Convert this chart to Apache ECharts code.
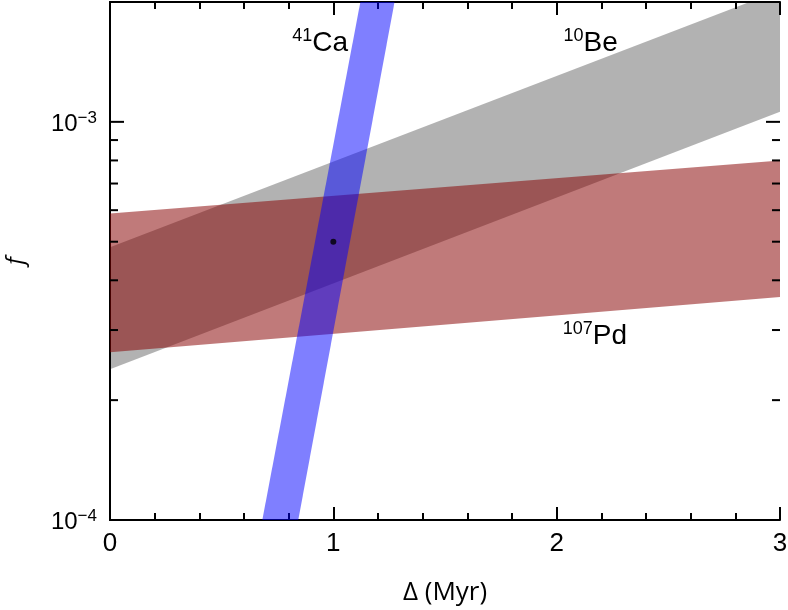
<!DOCTYPE html>
<html>
<head>
<meta charset="utf-8">
<script src="https://cdn.jsdelivr.net/npm/echarts@6/dist/echarts.min.js"></script>
<style>
html,body{margin:0;padding:0;background:#fff;}
#chart{width:788px;height:610px;}
</style>
</head>
<body>
<div id="chart"></div>
<script>
// ---- data (x = Δ in Myr, f = value) ----
var xMin = 0, xMax = 3;
var yMin = 1e-4, yMax = 2e-3;
var xTickLabels = ['0', '1', '2', '3'];

// band edges: [Δ, f] endpoints (straight lines in log space)
var be10Lower = [[0, 2.39e-4], [3, 1.06e-3]];
var be10Upper = [[0, 4.84e-4], [3, 2.14e-3]];
var pd107Lower = [[0, 2.64e-4], [3, 3.63e-4]];
var pd107Upper = [[0, 5.89e-4], [3, 8.0e-4]];
var ca41Left  = [[0.682, 1e-4], [1.121, 2e-3]];
var ca41Right = [[0.843, 1e-4], [1.274, 2e-3]];

var solutionPoint = [[1, 5e-4]];

var yMajorTicks = [1e-4, 1e-3];
var yTickExponents = ['\u22124', '\u22123'];
var yMinorTicks = [2e-4, 3e-4, 4e-4, 5e-4, 6e-4, 7e-4, 8e-4, 9e-4, 2e-3];

var annoIso  = ['41', '10', '107'];
var annoElem = ['Ca', 'Be', 'Pd'];
var annoX    = [0.816, 2.031, 2.027];
var annoF    = [1.585e-3, 1.585e-3, 2.91e-4];

// ---- chart ----
function polygonOf(lower, upper) {
  return lower.concat(upper.slice().reverse());
}
var bands = [
  { poly: polygonOf(be10Lower, be10Upper), color: 'rgba(0,0,0,0.30)' },
  { poly: polygonOf(pd107Lower, pd107Upper), color: 'rgba(135,0,0,0.52)' },
  { poly: polygonOf(ca41Left, ca41Right), color: 'rgba(0,0,255,0.5)' }
];

var FONT = 'Liberation Sans, Arial, sans-serif';
function makeRich(big, small, raise) {
  return {
    b: { fontSize: big, fontFamily: FONT, color: '#000', verticalAlign: 'bottom' },
    s: { fontSize: small, fontFamily: FONT, color: '#000', verticalAlign: 'top', padding: [0, 0, raise, 0] }
  };
}

var series = [];
bands.forEach(function (b) {
  series.push({
    type: 'custom',
    coordinateSystem: 'cartesian2d',
    clip: true,
    silent: true,
    data: b.poly,
    renderItem: function (params, api) {
      if (params.dataIndex !== 0) return;
      var pts = b.poly.map(function (p) { return api.coord(p); });
      return { type: 'polygon', shape: { points: pts }, style: { fill: b.color } };
    },
    z: 2
  });
});

series.push({
  type: 'scatter',
  data: solutionPoint,
  symbol: 'circle',
  symbolSize: 6,
  itemStyle: { color: '#000' },
  silent: true,
  z: 5
});

// y ticks (log minor ticks) on both sides, plus labels for decades
var allYTicks = yMajorTicks.map(function (v, i) { return [xMin, v, 1, i]; })
  .concat(yMinorTicks.map(function (v) { return [xMin, v, 0, -1]; }));
series.push({
  type: 'custom',
  coordinateSystem: 'cartesian2d',
  silent: true,
  clip: false,
  data: allYTicks,
  encode: { x: 0, y: 1 },
  renderItem: function (params, api) {
    var v = api.value(1), major = api.value(2), li = api.value(3);
    var len = major ? 14 : 8;
    var pl = api.coord([xMin, v]);
    var pr = api.coord([xMax, v]);
    var st = { stroke: '#000', lineWidth: 2 };
    var children = [
      { type: 'line', shape: { x1: pl[0], y1: pl[1], x2: pl[0] + len, y2: pl[1] }, style: st },
      { type: 'line', shape: { x1: pr[0], y1: pr[1], x2: pr[0] - len, y2: pr[1] }, style: st }
    ];
    if (major && li >= 0) {
      children.push({
        type: 'text', x: pl[0] - 13, y: pl[1] + 1,
        style: {
          text: '{b|10}{s|' + yTickExponents[li] + '}',
          rich: makeRich(24, 17, 10),
          fontSize: 24, fontFamily: FONT,
          align: 'right', verticalAlign: 'middle'
        }
      });
    }
    return { type: 'group', children: children };
  },
  z: 6
});

// annotations
series.push({
  type: 'custom',
  coordinateSystem: 'cartesian2d',
  silent: true,
  clip: false,
  data: annoX.map(function (x, i) { return [x, annoF[i], i]; }),
  encode: { x: 0, y: 1 },
  renderItem: function (params, api) {
    var i = api.value(2);
    var p = api.coord([api.value(0), api.value(1)]);
    return {
      type: 'text',
      x: p[0], y: p[1],
      style: {
        text: '{s|' + annoIso[i] + '}{b|' + annoElem[i] + '}',
        rich: makeRich(28, 18, 12),
        fontSize: 28,
        fontFamily: FONT,
        align: 'left',
        verticalAlign: 'middle'
      }
    };
  },
  z: 7
});

var axisLineStyle = { color: '#000', width: 2 };

var option = {
  animation: false,
  backgroundColor: '#fff',
  grid: { left: 110, right: 8, top: 2, bottom: 90, containLabel: false, outerBoundsMode: 'none' },
  xAxis: [
    {
      type: 'value', min: xMin, max: xMax, interval: 1, position: 'bottom',
      axisLine: { show: true, lineStyle: axisLineStyle },
      axisTick: { show: true, inside: true, length: 13, lineStyle: { color: '#000', width: 2 } },
      minorTick: { show: true, splitNumber: 5, length: 7, lineStyle: { color: '#000', width: 2 } },
      splitLine: { show: false },
      axisLabel: {
        color: '#000', fontSize: 26, fontFamily: FONT, margin: 11,
        formatter: function (v) { return xTickLabels[Math.round(v)]; }
      },
      name: 'Δ (Myr)', nameLocation: 'middle', nameGap: 60,
      nameTextStyle: { color: '#000', fontSize: 26, fontFamily: 'Open Sans, Liberation Sans, sans-serif' }
    },
    {
      type: 'value', min: xMin, max: xMax, interval: 1, position: 'top',
      axisLine: { show: true, lineStyle: axisLineStyle },
      axisTick: { show: true, inside: true, length: 13, lineStyle: { color: '#000', width: 2 } },
      minorTick: { show: true, splitNumber: 5, length: 7, lineStyle: { color: '#000', width: 2 } },
      splitLine: { show: false },
      axisLabel: { show: false }
    }
  ],
  yAxis: [
    {
      type: 'log', logBase: 10, min: yMin, max: yMax, interval: 1, position: 'left',
      axisLine: { show: true, lineStyle: axisLineStyle },
      axisTick: { show: false },
      minorTick: { show: false },
      splitLine: { show: false },
      axisLabel: { show: false },
      name: 'f', nameLocation: 'middle', nameGap: 82,
      nameTextStyle: { color: '#000', fontSize: 24, fontStyle: 'italic', fontFamily: 'Open Sans, Liberation Sans, sans-serif' }
    },
    {
      type: 'log', logBase: 10, min: yMin, max: yMax, interval: 1, position: 'right',
      axisLine: { show: true, lineStyle: axisLineStyle },
      axisTick: { show: false },
      minorTick: { show: false },
      splitLine: { show: false },
      axisLabel: { show: false }
    }
  ],
  series: series
};

var chart = echarts.init(document.getElementById('chart'), null, { renderer: 'canvas' });
chart.setOption(option);
</script>
</body>
</html>
